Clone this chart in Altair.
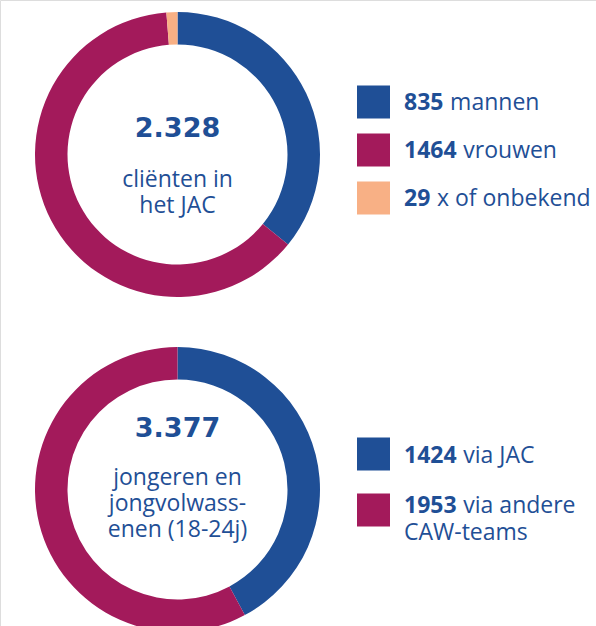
import altair as alt
import pandas as pd

# ---- data ----
cats1 = ["mannen", "vrouwen", "x of onbekend"]
vals1 = [835, 1464, 29]
total1 = "2.328"
sub1 = ["cliënten in", "het JAC"]

cats2 = ["via JAC", "via andere\nCAW-teams"]
vals2 = [1424, 1953]
total2 = "3.377"
sub2 = ["jongeren en", "jongvolwass-", "enen (18-24j)"]

BLUE = "#1f4f96"
MAG = "#a31a5b"
ORA = "#f8b085"
colors1 = [BLUE, MAG, ORA]
colors2 = [BLUE, MAG]

W, H = 596, 626
CX = 177.5
CY1, CY2 = 154.5, 489.5
R_OUT, R_IN = 142.5, 110

FONT = "Open Sans"
FS = 23
LH = 27


def donut(cats, vals, cols, cy):
    df = pd.DataFrame({"cat": cats, "val": vals, "ord": list(range(len(cats)))})
    return alt.Chart(df).mark_arc(outerRadius=R_OUT, innerRadius=R_IN, stroke=None).encode(
        theta=alt.Theta("val:Q", stack=True),
        order=alt.Order("ord:Q"),
        color=alt.Color("cat:N", scale=alt.Scale(domain=cats, range=cols), legend=None),
        x=alt.value(CX),
        y=alt.value(cy),
    )


def center(total, sub, cy_total, cy_sub):
    a = alt.Chart(pd.DataFrame({"t": [total]})).mark_text(
        font="DejaVu Sans", fontWeight="bold", fontSize=27, color=BLUE,
        align="center", baseline="alphabetic"
    ).encode(text="t:N", x=alt.value(CX), y=alt.value(cy_total))
    df = pd.DataFrame({"t": sub, "y": [cy_sub + 26 * i for i in range(len(sub))], "x": [CX] * len(sub)})
    b = alt.Chart(df).mark_text(
        font=FONT, fontSize=FS, color=BLUE, align="center", baseline="alphabetic"
    ).encode(text="t:N", x=alt.X("x:Q", scale=None), y=alt.Y("y:Q", scale=None))
    return a + b


def legend(cats, vals, cols, sq_y, txt_y):
    n = len(cats)
    df = pd.DataFrame({
        "cat": cats,
        "first": [c.split("\n")[0] for c in cats],
        "num": [str(v) for v in vals],
        "sx": [373.5] * n,
        "sy": sq_y,
        "ty": txt_y,
        "nx": [404] * n,
        "lx": [404 + 13.2 * len(str(v)) + 6.5 for v in vals],
    })
    # continuation lines of multi-line labels, aligned with the number
    rest = []
    for c, ty in zip(cats, txt_y):
        for k, line in enumerate(c.split("\n")[1:], start=1):
            rest.append({"line": line, "x": 404, "y": ty + k * LH})
    sq = alt.Chart(df).mark_square(size=33 * 33, opacity=1).encode(
        x=alt.X("sx:Q", scale=None), y=alt.Y("sy:Q", scale=None),
        color=alt.Color("cat:N", scale=alt.Scale(domain=cats, range=cols), legend=None),
    )
    num = alt.Chart(df).mark_text(
        font=FONT, fontWeight="bold", fontSize=FS, color=BLUE, align="left", baseline="alphabetic"
    ).encode(x=alt.X("nx:Q", scale=None), y=alt.Y("ty:Q", scale=None), text="num:N")
    lab = alt.Chart(df).mark_text(
        font=FONT, fontSize=FS, color=BLUE, align="left", baseline="alphabetic"
    ).encode(x=alt.X("lx:Q", scale=None), y=alt.Y("ty:Q", scale=None), text="first:N")
    out = sq + num + lab
    if rest:
        out = out + alt.Chart(pd.DataFrame(rest)).mark_text(
            font=FONT, fontSize=FS, color=BLUE, align="left", baseline="alphabetic"
        ).encode(x=alt.X("x:Q", scale=None), y=alt.Y("y:Q", scale=None), text="line:N")
    return out.resolve_scale(color="independent")


layers = [
    donut(cats1, vals1, colors1, CY1),
    donut(cats2, vals2, colors2, CY2),
    center(total1, sub1, 137, 187),
    center(total2, sub2, 437, 485),
    legend(cats1, vals1, colors1, [102, 150, 198], [109.5, 157.5, 205.5]),
    legend(cats2, vals2, colors2, [454, 510], [463, 513]),
]

chart = alt.layer(*layers).resolve_scale(
    theta="independent", color="independent"
).properties(
    width=W, height=H, padding=0, autosize=alt.AutoSizeParams(type="none")
).configure_view(stroke=None).configure(background="white")

chart.save("out.html", embed_options={"renderer": "svg", "actions": False})
